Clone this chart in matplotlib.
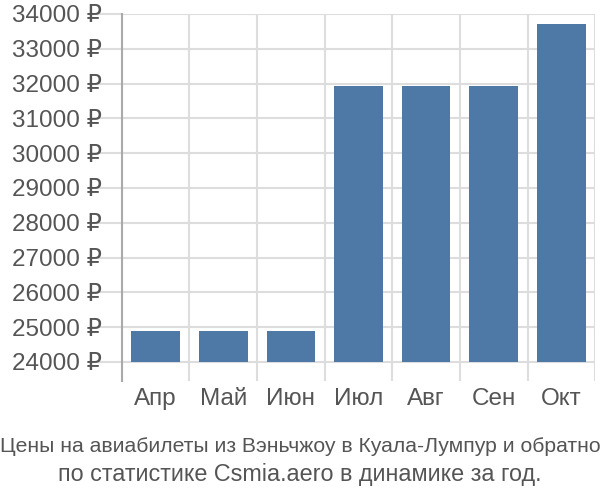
import numpy as np
import matplotlib
matplotlib.use('Agg')
import matplotlib.pyplot as plt

plt.rcParams['font.family'] = ['Liberation Sans', 'DejaVu Sans']

# data
months = ['Апр', 'Май', 'Июн', 'Июл', 'Авг', 'Сен', 'Окт']
prices = [24900, 24900, 24900, 31930, 31930, 31930, 33700]
yticks = list(range(24000, 34001, 1000))
caption1 = 'Цены на авиабилеты из Вэньчжоу в Куала-Лумпур и обратно'
caption2 = 'по статистике Csmia.aero в динамике за год.'

text_col = '#555555'
grid_col = '#dddddd'
bar_col = '#4e79a7'

fig = plt.figure(figsize=(6, 5), dpi=100)
ax = fig.add_axes([0.203, 0.238, 0.789, 0.734])

x = np.arange(len(months))
base = yticks[0]
ax.bar(x, np.array(prices) - base, bottom=base, width=0.72, color=bar_col, zorder=3)

ax.set_xlim(-0.5, len(months) - 0.5)
ax.set_ylim(23450, 34000)

ax.set_yticks(yticks)
ax.set_yticklabels([f'{v} ₽' for v in yticks])
ax.set_xticks(x)
ax.set_xticklabels(months)
ax.set_xticks(np.arange(-0.5, len(months)), minor=True)

ax.grid(axis='y', color=grid_col, linewidth=1.5, zorder=0)
ax.grid(axis='x', which='minor', color=grid_col, linewidth=1.5, zorder=0)
ax.tick_params(axis='y', length=22, color=grid_col, width=1.5, labelsize=17.5,
               labelcolor=text_col, pad=-8)
ax.tick_params(axis='x', which='major', length=0, labelsize=17.5,
               labelcolor=text_col, pad=5)
ax.tick_params(axis='x', which='minor', length=0)

for s in ['top', 'right', 'bottom']:
    ax.spines[s].set_visible(False)
ax.spines['left'].set_color('#aaaaaa')
ax.spines['left'].set_linewidth(1.5)

fig.text(0.5, 1 - 447 / 500, caption1, ha='center', va='center', fontsize=15.2,
         color=text_col)
fig.text(0.5, 1 - 474 / 500, caption2, ha='center', va='center', fontsize=16.8,
         color=text_col)

fig.savefig('out.png', dpi=100)
